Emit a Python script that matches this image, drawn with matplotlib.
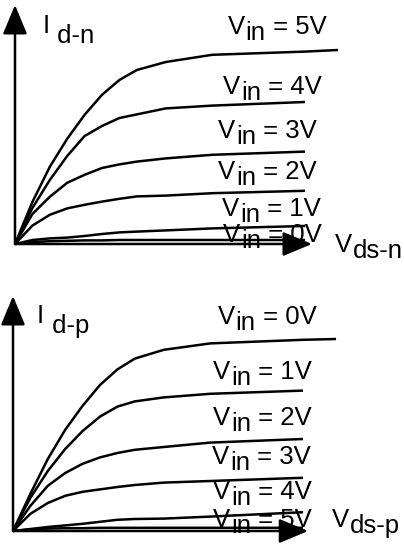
import matplotlib
matplotlib.use("Agg")
import matplotlib.pyplot as plt
from matplotlib.patches import FancyArrowPatch

plt.rcParams['font.family'] = ['Liberation Sans', 'DejaVu Sans']

# drain-source voltage grid (arbitrary units); last point only used by the top curve
VDS = [0, 0.3, 0.6, 0.9, 1.2, 1.5, 1.8, 2.1, 2.6, 3.4, 5.0, 5.57]

# NMOS drain current, one list per input voltage
VIN_N = ["5V", "4V", "3V", "2V", "1V", "0V"]
ID_N_5V = [0, 1.05, 1.93, 2.63, 3.23, 3.73, 4.10, 4.35, 4.55, 4.73, 4.81, 4.85]
ID_N_4V = [0, 0.90, 1.60, 2.20, 2.70, 2.95, 3.15, 3.24, 3.39, 3.46, 3.55]
ID_N_3V = [0, 0.75, 1.18, 1.53, 1.73, 1.90, 1.99, 2.06, 2.14, 2.23, 2.31]
ID_N_2V = [0, 0.46, 0.73, 0.89, 0.98, 1.06, 1.13, 1.19, 1.21, 1.27, 1.33]
ID_N_1V = [0, 0.10, 0.14, 0.16, 0.20, 0.25, 0.29, 0.31, 0.34, 0.39, 0.45]
ID_N_0V = [0, 0.05, 0.07, 0.08, 0.09, 0.09, 0.10, 0.10, 0.10, 0.10, 0.10]

# PMOS drain current
VIN_P = ["0V", "1V", "2V", "3V", "4V", "5V"]
ID_P_0V = [0, 0.93, 1.80, 2.53, 3.13, 3.65, 4.04, 4.31, 4.53, 4.69, 4.78, 4.80]
ID_P_1V = [0, 0.83, 1.50, 2.05, 2.50, 2.86, 3.11, 3.24, 3.34, 3.43, 3.51]
ID_P_2V = [0, 0.63, 1.13, 1.45, 1.68, 1.84, 1.95, 2.03, 2.10, 2.21, 2.30]
ID_P_3V = [0, 0.43, 0.70, 0.88, 0.98, 1.04, 1.10, 1.15, 1.21, 1.25, 1.33]
ID_P_4V = [0, 0.05, 0.10, 0.14, 0.18, 0.23, 0.28, 0.30, 0.31, 0.36, 0.47]
ID_P_5V = [0, 0.04, 0.06, 0.07, 0.07, 0.08, 0.08, 0.08, 0.08, 0.08, 0.08]

ID_N = [ID_N_5V, ID_N_4V, ID_N_3V, ID_N_2V, ID_N_1V, ID_N_0V]
ID_P = [ID_P_0V, ID_P_1V, ID_P_2V, ID_P_3V, ID_P_4V, ID_P_5V]

FS = 18.5
DPI = 100

fig = plt.figure(figsize=(4.04, 5.46), dpi=DPI)
renderer = fig.canvas.get_renderer()


def sub_text(ax, x, y, main, sub, rest="", drop=6):
    """Main text followed by a lowered (same size) subscript, then more text."""
    t = ax.text(x, y, main, fontsize=FS, va="baseline", ha="left")
    w = t.get_window_extent(renderer).width * 72 / DPI
    t2 = ax.annotate(sub, xy=(x, y), xytext=(w + 0.5, -drop * 72 / DPI),
                     textcoords="offset points", fontsize=FS, va="baseline", ha="left")
    if rest:
        w2 = t2.get_window_extent(renderer).width * 72 / DPI
        ax.annotate(rest, xy=(x, y), xytext=(w + w2 + 0.5, 0),
                    textcoords="offset points", fontsize=FS, va="baseline", ha="left")


def axis_arrow(ax, tip):
    ax.add_patch(FancyArrowPatch((0, 0), tip, arrowstyle="-|>,head_length=18,head_width=7.5",
                                 mutation_scale=1, lw=1.8, color="black",
                                 shrinkA=0, shrinkB=0, zorder=4))


def panel(ax, currents, vins, label_pos, ylab, xlab, ylab_pos, xlab_pos, ytip, xtip):
    for y, vin, (lx, ly) in zip(currents, vins, label_pos):
        ax.plot(VDS[:len(y)], y, color="black", lw=1.8, solid_capstyle="butt")
        sub_text(ax, lx, ly, "V", "in", " = " + vin, drop=6)
    axis_arrow(ax, (0, ytip))
    axis_arrow(ax, (xtip, 0))
    sub_text(ax, ylab_pos[0], ylab_pos[1], "I", " " + ylab, drop=10)
    sub_text(ax, xlab_pos[0], xlab_pos[1], "V", xlab, drop=6)
    ax.axis("off")


# top: NMOS
ax_n = fig.add_axes([0, 0.5, 1, 0.5])
ax_n.set_xlim(-15 / 58, 389 / 58)
ax_n.set_ylim(-29 / 40, 244 / 40)
panel(ax_n, ID_N, VIN_N,
      [(3.67, 5.25), (3.59, 3.75), (3.50, 2.65), (3.50, 1.625), (3.57, 0.70), (3.59, 0.05)],
      "d-n", "ds-n", (0.47, 5.275), (5.52, -0.2), 5.975, 5.12)

# bottom: PMOS
ax_p = fig.add_axes([0, 0, 1, 0.5])
ax_p.set_xlim(-13 / 58, 391 / 58)
ax_p.set_ylim(-15 / 40, 258 / 40)
panel(ax_p, ID_P, VIN_P,
      [(3.53, 5.175), (3.45, 3.80), (3.45, 2.65), (3.43, 1.675), (3.45, 0.80), (3.45, 0.10)],
      "d-p", "ds-p", (0.41, 5.2), (5.5, 0.1), 5.875, 5.09)

fig.savefig("out.png", dpi=DPI)
